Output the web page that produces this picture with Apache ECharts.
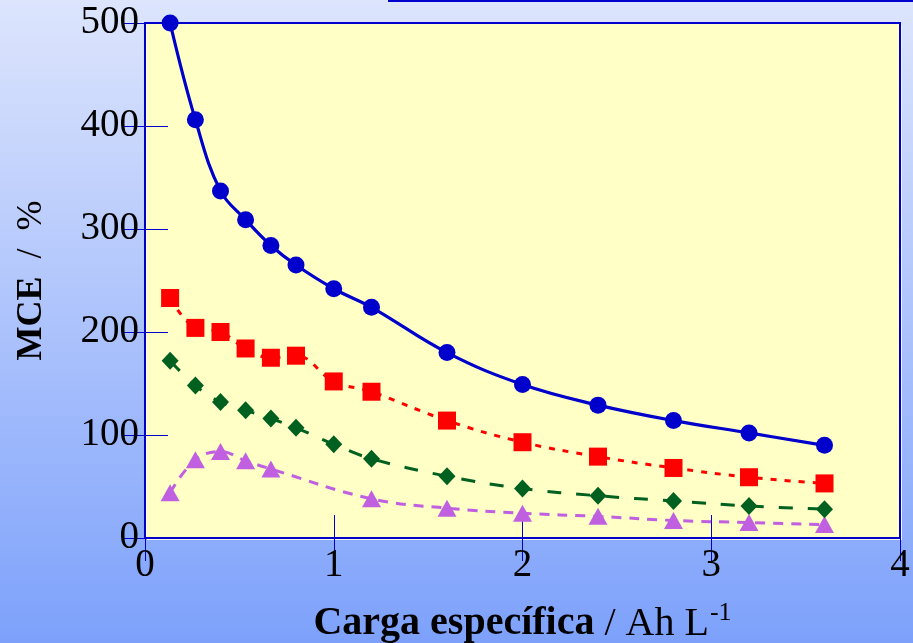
<!DOCTYPE html>
<html>
<head>
<meta charset="utf-8">
<script src="https://cdn.jsdelivr.net/npm/echarts@6/dist/echarts.min.js"></script>
<style>
  html, body { margin: 0; padding: 0; }
  #chart { width: 913px; height: 643px; }
</style>
</head>
<body>
<div id="chart"></div>
<script>
// Specific charge (Ah/L) at which each MCE value was measured
const xValues = [0.133, 0.267, 0.4, 0.533, 0.667, 0.8, 1.0, 1.2, 1.6, 2.0, 2.4, 2.8, 3.2, 3.6];

// MCE (%) for the four experiments; null = no measurement at that charge
const mceCircle  = [500, 406, 337, 309, 284, 265, 242, 224, 180, 149, 129, 114, 102, 90];
const mceSquare  = [233, 204, 200, 184, 175, 177, 152, 142, 114, 93, 79, 68, 59, 53];
const mceDiamond = [172, 148, 132, 124, 116, 107, 91, 77, 60, 48, 41, 36, 31, 28];
const mceTriangle = [44, 76, 84, 75, 67, null, null, 38, 29, 24, 21, 17, 15, 13];

// Axis ranges
const xRange = { min: 0, max: 4, step: 1 };
const yRange = { min: 0, max: 500, step: 100 };

const serif = "'Liberation Serif', 'Times New Roman', serif";

function pairs(ys) {
  const out = [];
  xValues.forEach((x, i) => { if (ys[i] !== null) out.push([x, ys[i]]); });
  return out;
}

const tickStyle = { show: true, inside: true, length: 23, lineStyle: { color: '#0000CC', width: 1 } };

const chart = echarts.init(document.getElementById('chart'), null, { renderer: 'canvas' });

const option = {
  animation: false,
  graphic: [
    {
      type: 'rect', z: -100, silent: true,
      shape: { x: 0, y: 0, width: 913, height: 643 },
      style: {
        fill: new echarts.graphic.LinearGradient(0, 0, 0, 1, [
          { offset: 0, color: '#DDE5FD' },
          { offset: 1, color: '#7DA1FB' }
        ])
      }
    },
    {
      // light edge under the plot frame
      type: 'rect', z: -50, silent: true,
      shape: { x: 147, y: 25, width: 755, height: 515 },
      style: { fill: '#F4F6EC' }
    },
    {
      // lower edge of the box above the plot
      type: 'rect', z: 10, silent: true,
      shape: { x: 389, y: -30, width: 600, height: 31 },
      style: { fill: 'none', stroke: '#0000CC', lineWidth: 2 }
    }
  ],
  grid: {
    left: 145, top: 23, right: 13, bottom: 105,
    show: true,
    backgroundColor: '#FFFFC6',
    borderColor: '#0000CC',
    borderWidth: 2,
    containLabel: false,
    outerBoundsMode: 'none'
  },
  xAxis: [
    {
      type: 'value', position: 'bottom',
      min: xRange.min, max: xRange.max, interval: xRange.step,
      axisLine: { show: false },
      axisTick: tickStyle,
      splitLine: { show: false },
      axisLabel: { color: '#000', fontFamily: serif, fontSize: 39, margin: 8 },
      name: '{b|Carga específica}{n| / Ah L}{s|-1}',
      nameLocation: 'middle',
      nameGap: 62,
      nameTextStyle: {
        rich: {
          b: { fontFamily: serif, fontSize: 40, fontWeight: 'bold', color: '#000' },
          n: { fontFamily: serif, fontSize: 40, color: '#000' },
          s: { fontFamily: serif, fontSize: 26, color: '#000', padding: [0, 0, 22, 1] }
        }
      }
    },
    {
      type: 'value', position: 'top',
      min: xRange.min, max: xRange.max, interval: xRange.step,
      axisLine: { show: false },
      axisTick: tickStyle,
      axisLabel: { show: false },
      splitLine: { show: false }
    }
  ],
  yAxis: [
    {
      type: 'value', position: 'left',
      min: yRange.min, max: yRange.max, interval: yRange.step,
      axisLine: { show: false },
      axisTick: tickStyle,
      splitLine: { show: false },
      axisLabel: { color: '#000', fontFamily: serif, fontSize: 39, margin: 6 },
      name: '{b|MCE}{n|  /  %}',
      nameLocation: 'middle',
      nameRotate: 90,
      nameGap: 95,
      nameTextStyle: {
        rich: {
          b: { fontFamily: serif, fontSize: 36, fontWeight: 'bold', color: '#000' },
          n: { fontFamily: serif, fontSize: 36, color: '#000' }
        }
      }
    },
    {
      type: 'value', position: 'right',
      min: yRange.min, max: yRange.max, interval: yRange.step,
      axisLine: { show: false },
      axisTick: tickStyle,
      axisLabel: { show: false },
      splitLine: { show: false }
    }
  ],
  series: [
    {
      name: 'triangulo', type: 'line', data: pairs(mceTriangle),
      smooth: 0.4,
      symbol: 'triangle', symbolSize: [19, 17],
      itemStyle: { color: '#C060E0' },
      lineStyle: { color: '#C060E0', width: 3, type: [10, 8] }
    },
    {
      name: 'rombo', type: 'line', data: pairs(mceDiamond),
      smooth: 0.4,
      symbol: 'diamond', symbolSize: [17, 18],
      itemStyle: { color: '#006020' },
      lineStyle: { color: '#006020', width: 3, type: [14, 15] }
    },
    {
      name: 'cuadrado', type: 'line', data: pairs(mceSquare),
      smooth: 0.4,
      symbol: 'rect', symbolSize: 18,
      itemStyle: { color: '#FF0000' },
      lineStyle: { color: '#FF0000', width: 3, type: [6, 8] }
    },
    {
      name: 'circulo', type: 'line', data: pairs(mceCircle),
      smooth: 0.4,
      symbol: 'circle', symbolSize: 17,
      itemStyle: { color: '#0000CC' },
      lineStyle: { color: '#0000CC', width: 3.2 }
    }
  ]
};

chart.setOption(option);
</script>
</body>
</html>
